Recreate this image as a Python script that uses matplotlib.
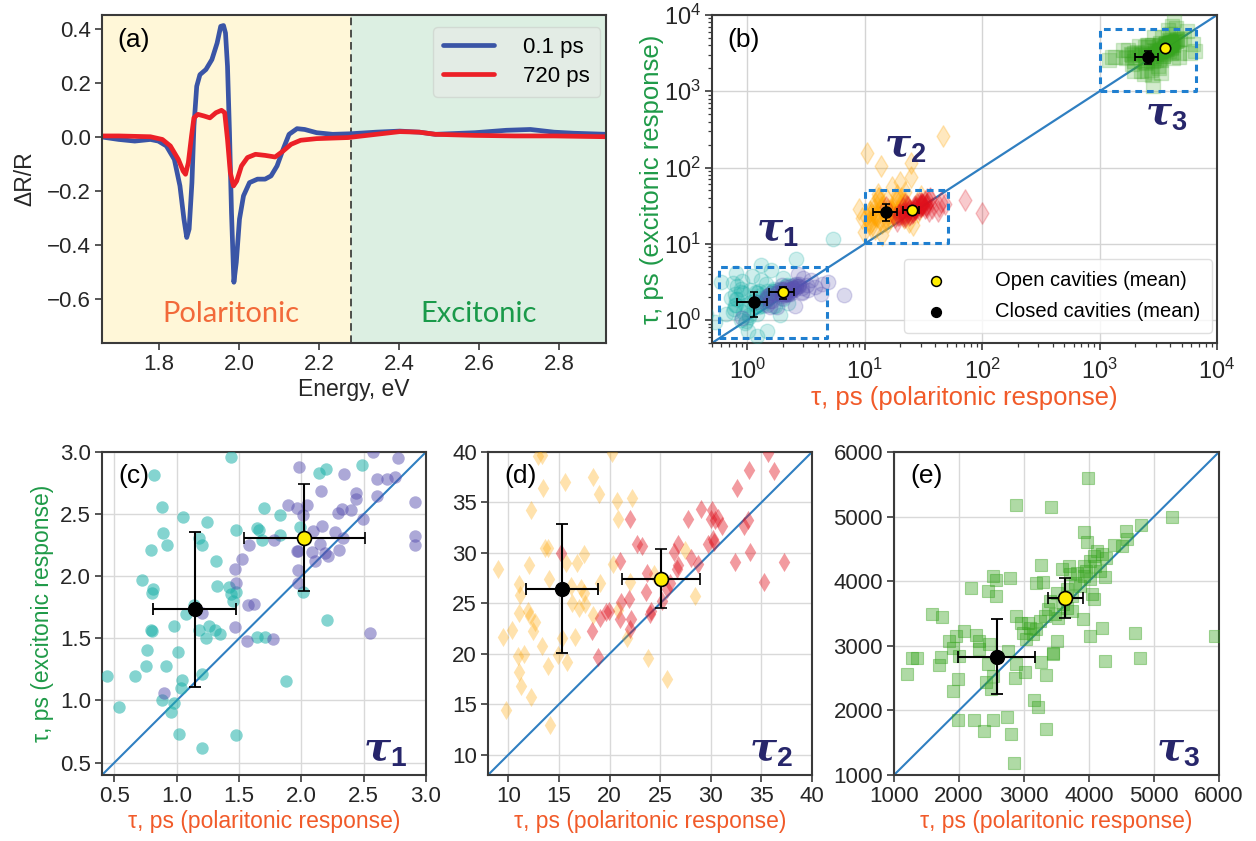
import matplotlib
matplotlib.use("Agg")
import matplotlib.pyplot as plt
import numpy as np

plt.rcParams['font.family'] = ['Liberation Sans', 'DejaVu Sans']
plt.rcParams['mathtext.fontset'] = 'custom'
plt.rcParams['mathtext.rm'] = 'Liberation Sans'
plt.rcParams['mathtext.it'] = 'DejaVu Serif:italic:bold'
plt.rcParams['mathtext.bf'] = 'Liberation Sans:bold'

# ---- panel (a): transient reflectance spectra ----
e_blue = [1.657, 1.699, 1.739, 1.778, 1.798, 1.818, 1.838, 1.852, 1.862, 1.869, 1.875, 1.882,
          1.887, 1.894, 1.902, 1.917, 1.932, 1.945, 1.954, 1.961, 1.966, 1.971, 1.976, 1.981,
          1.987, 1.993, 2.001, 2.011, 2.026, 2.046, 2.065, 2.080, 2.095, 2.110, 2.125, 2.145,
          2.164, 2.194, 2.234, 2.278, 2.343, 2.402, 2.451, 2.491, 2.590, 2.669, 2.729, 2.788,
          2.838, 2.920]
dr_blue = [0.000, -0.009, -0.015, -0.009, -0.015, -0.033, -0.083, -0.181, -0.304, -0.372, -0.341,
           -0.169, 0.040, 0.188, 0.231, 0.250, 0.287, 0.348, 0.410, 0.413, 0.385, 0.262, 0.016,
           -0.280, -0.538, -0.464, -0.304, -0.218, -0.169, -0.156, -0.156, -0.144, -0.107, -0.046,
           0.010, 0.031, 0.028, 0.016, 0.010, 0.012, 0.018, 0.022, 0.018, 0.010, 0.016, 0.025,
           0.028, 0.018, 0.014, 0.010]
e_red = [1.657, 1.699, 1.778, 1.808, 1.828, 1.848, 1.860, 1.866, 1.873, 1.881, 1.887, 1.897,
         1.912, 1.927, 1.942, 1.956, 1.964, 1.971, 1.978, 1.986, 1.994, 2.006, 2.021, 2.041,
         2.065, 2.090, 2.110, 2.130, 2.154, 2.194, 2.273, 2.343, 2.402, 2.451, 2.491, 2.590,
         2.689, 2.788, 2.920]
dr_red = [0.004, 0.004, 0.001, -0.009, -0.033, -0.083, -0.126, -0.138, -0.095, 0.004, 0.071, 0.084,
          0.078, 0.071, 0.090, 0.099, 0.090, -0.009, -0.132, -0.181, -0.163, -0.107, -0.076, -0.064,
          -0.068, -0.074, -0.052, -0.027, -0.012, -0.006, -0.002, 0.010, 0.020, 0.018, 0.010, 0.006,
          0.004, 0.004, 0.001]
e_split = 2.28

# ---- tau1 (circles) ----
t1_closed_x = [1.433, 0.816, 0.881, 1.05, 1.245, 0.889, 0.92, 0.79, 1.18, 1.20, 1.473, 1.312, 0.722,
               0.811, 0.803, 1.32, 1.42, 1.433, 1.45, 1.479, 1.138, 1.076, 0.79, 0.803, 0.977, 1.176,
               1.259, 1.237, 1.304, 1.345, 0.763, 0.755, 0.916, 1.01, 1.04, 1.036, 1.205, 0.444,
               0.661, 0.535, 0.883, 0.977, 0.956, 1.015, 1.2, 1.473, 1.88, 2.208, 1.64, 1.66, 1.70,
               1.68, 1.832, 1.832, 1.988, 2.009, 2.143, 2.197, 2.489, 1.64, 1.706,
               1.3, 1.6, 2.6, 5.4, 0.9, 1.1, 2.0, 0.75, 0.6, 0.8, 1.3]
t1_closed_y = [2.957, 2.818, 2.558, 2.475, 2.434, 2.349, 2.249, 2.214, 2.31, 2.255, 2.37, 2.12, 1.97,
               1.90, 1.866, 1.92, 1.914, 1.853, 1.804, 1.87, 1.767, 1.70, 1.571, 1.563, 1.598, 1.571,
               1.603, 1.504, 1.571, 1.536, 1.405, 1.281, 1.281, 1.391, 1.163, 1.102, 1.209, 1.196,
               1.196, 0.946, 1.0, 0.976, 0.906, 0.727, 0.614, 0.721, 1.153, 1.651, 2.389, 2.375, 2.55,
               2.295, 2.49, 2.335, 2.394, 1.871, 2.831, 2.866, 2.898, 1.512, 1.509,
               3.4, 4.5, 6.4, 11.4, 3.3, 3.8, 3.6, 3.1, 3.2, 4.2, 5.2]
t1_open_x = [1.98, 2.578, 2.779, 2.344, 2.605, 2.686, 2.752, 2.16, 2.436, 2.439, 2.61, 1.894, 1.961,
             2.042, 2.015, 2.29, 2.323, 2.398, 2.497, 2.095, 2.162, 2.269, 2.331, 1.781, 1.58, 1.527,
             1.47, 1.479, 2.149, 1.961, 1.969, 2.087, 2.109, 2.189, 2.216, 2.302, 1.974, 1.974, 1.572,
             1.618, 1.205, 1.47, 1.567, 1.773, 2.551, 0.894, 2.913, 2.913, 2.913,
             3.2, 3.5, 4.3, 4.2, 4.9, 6.7, 3.0, 3.3, 2.7, 3.8]
t1_open_y = [2.877, 3.0, 2.952, 2.826, 2.783, 2.783, 2.799, 2.684, 2.67, 2.625, 2.649, 2.576, 2.55,
             2.576, 2.496, 2.509, 2.542, 2.531, 2.464, 2.362, 2.402, 2.357, 2.308, 2.295, 2.255, 2.14,
             2.059, 1.946, 2.263, 2.201, 2.206, 2.193, 2.121, 2.188, 2.166, 2.209, 2.048, 1.946, 1.767,
             1.777, 1.705, 1.593, 1.477, 1.496, 1.544, 1.062, 2.595, 2.322, 2.255,
             2.9, 3.4, 3.0, 2.2, 3.2, 2.1, 3.6, 2.5, 4.0, 2.7]

# ---- tau2 (diamonds) ----
t2_closed_x = [8.94, 9.77, 9.44, 10.33, 11.06, 11.16, 11.06, 10.93, 11.59, 11.06, 11.22, 12.25, 12.02,
               11.98, 12.15, 12.65, 12.41, 12.28, 12.91, 13.31, 13.47, 13.64, 13.97, 14.07, 13.37,
               13.97, 14.13, 14.89, 15.29, 15.59, 15.69, 16.18, 16.28, 15.79, 16.55, 16.78, 17.18,
               17.44, 16.94, 17.44, 17.61, 18.33, 18.33, 18.96, 19.03, 20.25, 20.32, 20.75, 20.85,
               20.85, 21.74, 22.0, 22.2, 23.82, 25.64, 27.46, 28.45, 24.38,
               10.5, 13.8, 46.0, 20.0, 25.0, 25.0, 17.0, 22.0, 13.0, 30.0, 19.0]
t2_closed_y = [28.38, 14.48, 21.69, 22.38, 26.9, 25.84, 24.03, 19.75, 19.98, 18.24, 16.85, 15.7, 28.77,
               24.26, 23.77, 23.11, 22.28, 34.3, 39.57, 39.74, 36.44, 30.52, 30.52, 27.45, 20.8, 18.83,
               12.97, 19.88, 21.56, 37.0, 28.97, 26.73, 25.08, 19.16, 21.63, 28.97, 26.57, 29.86, 24.59,
               26.07, 24.92, 37.5, 23.83, 35.88, 27.06, 39.9, 28.87, 35.13, 33.41, 24.33, 21.53, 27.16,
               35.46, 19.55, 17.51, 30.25, 25.74, 27.95,
               154.0, 105.0, 257.0, 65.0, 76.0, 113.0, 55.0, 48.0, 45.0, 42.0, 44.0]
t2_open_x = [15.22, 18.23, 18.86, 19.09, 19.66, 19.92, 21.01, 21.08, 21.18, 21.9, 22.17, 22.0, 22.07,
             22.73, 23.23, 23.56, 23.72, 24.05, 23.99, 25.21, 25.71, 26.37, 26.8, 26.63, 26.77, 25.97,
             27.79, 28.09, 28.78, 29.08, 30.11, 30.01, 29.74, 30.27, 30.34, 30.44, 30.73, 31.16, 32.59,
             32.39, 33.31, 33.64, 33.81, 33.91, 35.63, 36.23, 35.3, 37.28,
             71.0, 100.0, 45.0, 43.0, 42.0, 48.0]
t2_open_y = [30.02, 22.22, 19.65, 23.54, 24.1, 24.26, 29.2, 23.44, 25.15, 25.41, 23.5, 22.45, 33.41,
             30.85, 30.68, 26.17, 28.05, 24.26, 23.93, 25.25, 26.4, 30.09, 30.85, 28.38, 28.8, 27.06,
             33.38, 29.53, 28.87, 34.37, 34.24, 33.32, 30.85, 31.34, 31.08, 33.25, 33.48, 32.66, 36.44,
             29.1, 32.66, 33.25, 38.19, 30.09, 39.9, 38.09, 27.16, 29.1,
             37.5, 25.0, 35.0, 31.0, 27.0, 33.0]

# ---- tau3 (squares) ----
t3_x = [3978, 2882, 3420, 5276, 4795, 3916, 4563, 4589, 3968, 4382, 4501, 4123, 4200, 4071, 4020, 3916,
        4268, 3254, 3694, 3590, 2520, 2572, 2789, 2184, 2443, 2572, 3182, 3296, 3710, 3813, 3916, 4020,
        3787, 3864, 3958, 4252, 4071, 3503, 3399, 3373, 3322, 3244, 3192, 3140, 3735, 3901, 2882, 2960,
        2986, 3063, 3037, 3089, 1589, 1745, 2081, 1951, 1848, 2262, 2314, 2469, 1900, 2314, 1279, 1357,
        1724, 1693, 2003, 1202, 1977, 1900, 2443, 2417, 2520, 2494, 2753, 2882, 2867, 3011, 3254, 3332,
        3503, 3441, 3451, 4020, 4200, 4707, 4785, 4252, 5943, 3151, 3208, 3332, 2737, 2804, 2520, 2236,
        2391, 1977, 2841, 4045, 4097, 4175, 3658, 3735, 3596, 3658, 3477, 3529,
        4300, 4100, 3800, 4500, 6500, 6300, 5500]
t3_y = [5598, 5186, 5150, 4996, 4877, 4759, 4775, 4646, 4605, 4568, 4543, 4465, 4414, 4388, 4311, 4234,
        4363, 4244, 4234, 4193, 4079, 4012, 4053, 3899, 3848, 3770, 3976, 3987, 4105, 4131, 4079, 4028,
        3976, 3925, 4157, 4064, 3729, 3822, 3693, 3564, 3461, 3384, 3255, 3178, 3539, 3410, 3461, 3358,
        3204, 3358, 3101, 3281, 3487, 3446, 3230, 3152, 3075, 3163, 3075, 3024, 2972, 2946, 2818, 2807,
        2828, 2699, 2843, 2560, 2483, 2303, 2715, 2432, 2535, 2339, 2921, 2715, 2498, 2596, 2751, 2545,
        3075, 2895, 2869, 3152, 3271, 3204, 2818, 2766, 3152, 2159, 2045, 1711, 1901, 1633, 1850, 1850,
        1675, 1850, 1185, 3796, 4234, 4157, 3873, 3770, 3642, 3590, 3487, 3436,
        8500, 7200, 6400, 6800, 3400, 4200, 6200]

# ---- means (closed / open cavities): x, y, xerr, yerr ----
mean_closed = [(1.143, 1.733, 0.334, 0.622), (15.29, 26.47, 3.54, 6.42), (2582, 2833, 592, 577)]
mean_open = [(2.023, 2.309, 0.485, 0.43), (25.05, 27.45, 3.85, 2.91), (3637, 3734, 269, 309)]

boxes = [(0.57, 4.8, 0.58, 5.0), (10.1, 51, 10.3, 50.5), (1010, 6600, 1010, 6500)]

C_CYAN, C_PURP = '#20b2aa', '#5a52b0'
C_ORNG, C_RED = '#ffa500', '#e0101c'
C_GRN = '#37a41f'
C_XLAB, C_YLAB = '#f15a29', '#1f9a48'
C_TAU = '#27266b'
C_SPINE = '#3a3a3a'
C_TXT = '#262626'

W, H = 1256, 841
fig = plt.figure(figsize=(W / 100, H / 100), dpi=100)


def px_axes(l, r, t, b):
    return fig.add_axes([l / W, 1 - b / H, (r - l) / W, (b - t) / H])


def style(ax, size=16):
    for s in ax.spines.values():
        s.set_color(C_SPINE)
        s.set_linewidth(1.5)
    ax.tick_params(which='major', direction='out', length=5, width=1.2, colors=C_SPINE,
                   labelsize=size, labelcolor=C_TXT, pad=3)
    ax.tick_params(which='minor', direction='out', length=3, width=0.9, colors=C_SPINE)


# (a)
ax1 = px_axes(102, 606, 15, 343)
ax1.axvspan(1.6, e_split, color='#fff7d8', zorder=0)
ax1.axvspan(e_split, 3.0, color='#dcefe2', zorder=0)
ax1.axvline(e_split, color='#222222', ls='--', lw=1.1, dashes=(5, 3))
ax1.plot(e_blue, dr_blue, color='#3a55a6', lw=3.4, label='0.1 ps', solid_capstyle='round')
ax1.plot(e_red, dr_red, color='#ec2027', lw=3.4, label='720 ps', solid_capstyle='round')
ax1.set_xlim(1.657, 2.918)
ax1.set_ylim(-0.763, 0.452)
ax1.set_xticks([1.8, 2.0, 2.2, 2.4, 2.6, 2.8])
ax1.set_yticks([-0.6, -0.4, -0.2, 0.0, 0.2, 0.4])
ax1.set_xlabel('Energy, eV', fontsize=16.5, color=C_TXT, labelpad=2)
ax1.set_ylabel('ΔR/R', fontsize=16.5, color=C_TXT, labelpad=8)
ax1.text(0.03, 0.925, '(a)', transform=ax1.transAxes, fontsize=19, va='center')
ax1.text(1.98, -0.655, 'Polaritonic', color='#f26a3a', fontsize=21, ha='center', va='center',
         family=['Lato', 'DejaVu Sans'])
ax1.text(2.6, -0.655, 'Excitonic', color='#1a9a4a', fontsize=21, ha='center', va='center',
         family=['Lato', 'DejaVu Sans'])
leg = ax1.legend(loc='upper right', fontsize=16, handlelength=2.3, borderpad=0.45,
                 labelspacing=0.35, handletextpad=1.3, borderaxespad=0,
                 bbox_to_anchor=(0.988, 0.963))
leg.get_frame().set_facecolor('#e6ece6')
leg.get_frame().set_edgecolor('#cfd6cf')
style(ax1)

# (b)
ax2 = px_axes(712, 1217, 15, 343)
ax2.set_xscale('log')
ax2.set_yscale('log')
ax2.grid(True, which='major', color='#d4d4d4', lw=1)
ax2.set_axisbelow(True)
ax2.plot([0.5, 1e4], [0.5, 1e4], color='#2f7fc1', lw=1.6, zorder=2)
for cx, cy, col in [(t1_closed_x, t1_closed_y, C_CYAN), (t1_open_x, t1_open_y, C_PURP)]:
    ax2.scatter(cx, cy, s=110, marker='o', facecolor=col, edgecolor=col, alpha=0.22, lw=1, zorder=3)
for cx, cy, col, a in [(t2_closed_x, t2_closed_y, C_ORNG, 0.25), (t2_open_x, t2_open_y, C_RED, 0.22)]:
    ax2.scatter(cx, cy, s=120, marker='d', facecolor=col, edgecolor=col, alpha=a, lw=1, zorder=3)
ax2.scatter(t3_x, t3_y, s=90, marker='s', facecolor=C_GRN, edgecolor=C_GRN, alpha=0.22, lw=1, zorder=3)
for x0, x1, y0, y1 in boxes:
    ax2.plot([x0, x1, x1, x0, x0], [y0, y0, y1, y1, y0], color='#1f7fd0', lw=2.2,
             ls=(0, (2.2, 1.6)), zorder=4)
for (mx, my, ex, ey) in mean_closed:
    ax2.errorbar(mx, my, xerr=ex, yerr=ey, fmt='o', color='black', ms=8, capsize=3,
                 elinewidth=1.4, capthick=1.2, zorder=6)
for (mx, my, ex, ey) in mean_open:
    ax2.errorbar(mx, my, xerr=ex, yerr=ey, fmt='o', mfc='#ffee00', mec='black', mew=1.2,
                 ecolor='black', ms=7.5, capsize=3, elinewidth=1.4, capthick=1.2, zorder=6)
ax2.set_xlim(0.5, 1e4)
ax2.set_ylim(0.5, 1e4)
ax2.set_xticks([1, 10, 100, 1000, 10000])
ax2.set_yticks([1, 10, 100, 1000, 10000])
ax2.set_xlabel('τ, ps (polaritonic response)', fontsize=18.5, color=C_XLAB, labelpad=2)
ax2.set_ylabel('τ, ps (excitonic response)', fontsize=18.5, color=C_YLAB, labelpad=0)
ax2.text(0.03, 0.925, '(b)', transform=ax2.transAxes, fontsize=19, va='center')
ax2.text(1.8, 15, r'$\tau_\mathbf{1}$', color=C_TAU, fontsize=28, ha='center', va='center')
ax2.text(22, 190, r'$\tau_\mathbf{2}$', color=C_TAU, fontsize=28, ha='center', va='center')
ax2.text(3700, 510, r'$\tau_\mathbf{3}$', color=C_TAU, fontsize=28, ha='center', va='center')
h_open = ax2.scatter([], [], s=50, facecolor='#ffee00', edgecolor='black', lw=1.1)
h_closed = ax2.scatter([], [], s=50, facecolor='black', edgecolor='black')
leg2 = ax2.legend([h_open, h_closed], ['Open cavities (mean)', 'Closed cavities (mean)'],
                  loc='lower right', fontsize=14.5, borderpad=0.6, labelspacing=0.6,
                  handletextpad=1.9, borderaxespad=0, bbox_to_anchor=(0.99, 0.03))
leg2.get_frame().set_edgecolor('#d8d8d8')
style(ax2, 17)
ax2.tick_params(axis='x', which='major', pad=6)


def zoom_panel(ax, lim, ticks, tau_label, letter):
    ax.grid(True, color='#d9d9d9', lw=1)
    ax.set_axisbelow(True)
    ax.plot(lim, lim, color='#2f7fc1', lw=1.5, zorder=2)
    ax.set_xlim(lim)
    ax.set_ylim(lim)
    ax.set_xticks(ticks)
    ax.set_yticks(ticks)
    ax.set_xlabel('τ, ps (polaritonic response)', fontsize=16.5, color=C_XLAB, labelpad=2)
    ax.text(0.05, 0.925, letter, transform=ax.transAxes, fontsize=19, va='center')
    ax.text(0.94, 0.08, tau_label, transform=ax.transAxes, color=C_TAU, fontsize=29,
            ha='right', va='center')
    style(ax)


def means(ax, i, ms):
    mx, my, ex, ey = mean_closed[i]
    ax.errorbar(mx, my, xerr=ex, yerr=ey, fmt='o', color='black', ms=ms, capsize=4,
                elinewidth=1.5, capthick=1.3, zorder=6)
    mx, my, ex, ey = mean_open[i]
    ax.errorbar(mx, my, xerr=ex, yerr=ey, fmt='o', mfc='#ffee00', mec='black', mew=1.2,
                ecolor='black', ms=ms, capsize=4, elinewidth=1.5, capthick=1.3, zorder=6)


# (c)
ax3 = px_axes(102, 426, 452, 775)
ax3.scatter(t1_closed_x, t1_closed_y, s=80, color=C_CYAN, alpha=0.55, lw=0, zorder=3)
ax3.scatter(t1_open_x, t1_open_y, s=80, color=C_PURP, alpha=0.5, lw=0, zorder=3)
means(ax3, 0, 10)
zoom_panel(ax3, (0.4, 3.0), [0.5, 1.0, 1.5, 2.0, 2.5, 3.0], r'$\tau_\mathbf{1}$', '(c)')
ax3.set_ylabel('τ, ps (excitonic response)', fontsize=16.5, color=C_YLAB, labelpad=4)

# (d)
ax4 = px_axes(488, 812, 452, 775)
ax4.scatter(t2_closed_x, t2_closed_y, s=95, marker='d', color=C_ORNG, alpha=0.32, lw=0, zorder=3)
ax4.scatter(t2_open_x, t2_open_y, s=95, marker='d', color=C_RED, alpha=0.42, lw=0, zorder=3)
means(ax4, 1, 10)
zoom_panel(ax4, (8, 40), [10, 15, 20, 25, 30, 35, 40], r'$\tau_\mathbf{2}$', '(d)')

# (e)
ax5 = px_axes(894, 1219, 452, 775)
ax5.scatter(t3_x, t3_y, s=68, marker='s', facecolor=C_GRN, edgecolor=C_GRN, alpha=0.4, lw=0.8,
            zorder=3)
means(ax5, 2, 10)
zoom_panel(ax5, (1000, 6000), [1000, 2000, 3000, 4000, 5000, 6000], r'$\tau_\mathbf{3}$', '(e)')

fig.savefig('out.png', dpi=100)
